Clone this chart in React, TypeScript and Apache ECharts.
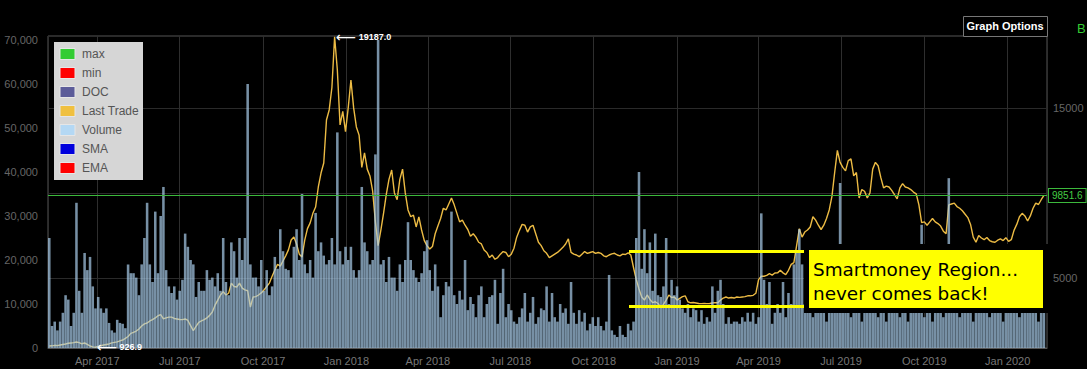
import React, { useEffect, useRef } from "react";
import * as echarts from "echarts";

const MONTHS = ["Jan", "Feb", "Mar", "Apr", "May", "Jun", "Jul", "Aug", "Sep", "Oct", "Nov", "Dec"];
const startDate = "2017-02-07";
const endDate = "2020-02-12";
const stepDays = 3;

// Last Trade (USD), one value every 3 days from startDate
const lastTrade = [
  1000, 1010, 1040, 1020, 1060, 1090, 1120, 1160, 1180, 1200,
  1235, 1200, 1130, 1176, 1100, 1000, 950, 926.9, 980, 1020,
  1060, 1090, 1120, 1180, 1210, 1240, 1300, 1350, 1450, 1560,
  1740, 1800, 1880, 2000, 2175, 2300, 2350, 2470, 2550, 2650,
  2780, 2840, 2600, 2650, 2700, 2700, 2620, 2590, 2560, 2550,
  2590, 2500, 2200, 1900, 2150, 2390, 2470, 2550, 2650, 2800,
  3000, 3400, 3700, 4000, 4200, 4000, 4100, 4700, 4500, 4470,
  4700, 4400, 4300, 4250, 3290, 3880, 3900, 4000, 4120, 4290,
  4500, 4700, 5100, 5470, 5800, 5700, 6000, 6300, 6650, 7230,
  7410, 7000, 6400, 6230, 7230, 7900, 8240, 8800, 9170, 10350,
  11170, 11760, 14290, 14880, 16200, 19187, 17230, 14000, 14800, 13600,
  15000, 16640, 15000, 13880, 13400, 11500, 12350, 11400, 11000, 10100,
  8300, 6900, 7800, 8800, 9900, 10800, 11350, 10000, 9600, 10800,
  11400, 10000, 9000, 8600, 8700, 8000, 8590, 7820, 7200, 6900,
  6700, 6850, 7600, 8050, 8500, 9100, 9000, 9350, 9700, 9300,
  8800, 8300, 8400, 8100, 7850, 7450, 7600, 7400, 7100, 7000,
  6640, 6500, 6200, 6350, 6100, 6200, 6400, 6550, 6500, 6250,
  6400, 6750, 7400, 7800, 8150, 8100, 7700, 8000, 8100, 7600,
  7100, 6900, 6600, 6450, 6200, 6300, 6400, 6500, 6650, 6800,
  7000, 7300, 6500, 6400, 6350, 6250, 6400, 6550, 6450, 6500,
  6550, 6450, 6500, 6450, 6300, 6250, 6350, 6420, 6450, 6350,
  6300, 6400, 6380, 6480, 6350, 5600, 4900, 4350, 3880, 3700,
  4000, 3750, 3550, 3600, 3500, 3250, 3450, 3700, 4000, 3850,
  3880, 3700, 3800, 3900, 3950, 3600, 3540, 3560, 3530, 3500,
  3490, 3500, 3490, 3500, 3530, 3550, 3540, 3700, 3820, 3880,
  3820, 3850, 3820, 3880, 3860, 3880, 3900, 3950, 3950, 3980,
  4100, 4900, 5100, 5100, 5150, 5250, 5170, 5290, 5300, 5450,
  5300, 5200, 5450, 5800, 5900, 6900, 7900, 7400, 7700, 7820,
  8000, 8600, 8400, 8100, 7850, 8100, 8500, 9000, 9800, 11200,
  12500, 11800, 11500, 11300, 11900, 12000, 11000, 11200, 9700, 10200,
  10100, 9700, 10000, 11400, 11800, 11600, 10900, 10300, 10400, 10350,
  10150, 9900, 9650, 10300, 10550, 10350, 10300, 10200, 10050, 9950,
  9300, 8250, 8300, 8100, 8300, 8500, 8300, 8200, 8050, 7750,
  7600, 9300, 9350, 9400, 9200, 9100, 8950, 8750, 8550, 8150,
  7400, 7100, 7500, 7350, 7250, 7380, 7200, 7130, 7100, 7220,
  7300, 7200, 7370, 7150, 7250, 7800, 8150, 8600, 8800, 8650,
  8350, 8650, 9100, 9400, 9320, 9600, 9851.6,
];

// Volume in thousands, same dates
const volumeThousands = [
  25, 5, 6, 4, 6, 8, 12, 11, 5, 8,
  33, 13, 8, 21.6, 17.7, 20.7, 14, 9, 11.6, 9,
  8, 9, 5.7, 4, 3.5, 6.4, 5.7, 5.5, 4.5, 19,
  17, 17, 16, 12, 19, 25, 33, 19, 15, 31,
  17, 30, 36.6, 17.7, 14, 12.5, 14, 11, 13, 15.5,
  26, 23, 20, 19, 11.6, 15, 13, 13, 17.7, 15.5,
  16, 14, 17, 13, 25, 15, 12, 24, 22, 16,
  25, 20, 25, 60, 19, 16, 16, 14, 20, 13,
  17.7, 12, 14, 20.7, 18, 27, 22, 18, 17.7, 16,
  23, 27, 20, 35, 19, 17, 20, 16, 30.7, 22,
  24, 21, 19, 20, 25, 19, 49, 22, 19, 23,
  20, 23, 17.7, 16, 17.7, 36.6, 24, 22, 19, 20,
  44, 70, 19, 20, 15, 20.7, 16, 16, 13, 19,
  15, 20, 28.6, 20, 17.7, 16, 15, 17, 22, 24.5,
  17.7, 13, 19, 14, 7, 12, 15, 14, 31, 12,
  10, 13, 11, 20, 8.6, 11.6, 10, 7, 12, 14,
  7, 10, 11.6, 12, 15.5, 5.5, 12.5, 18, 7, 10,
  8.6, 6, 5.5, 7, 9, 12.5, 6, 8, 11.6, 5.5,
  7, 9, 8.6, 14, 6, 12.5, 7, 6, 10, 8,
  9, 5.5, 15, 8, 5.5, 8.6, 6, 8, 4, 5.5,
  7, 5, 7, 5, 4, 6, 16.6, 4, 3, 2.5,
  5, 3, 2.5, 5.5, 4, 6, 25, 40, 18, 27,
  17, 24, 13, 26, 12, 11.6, 14, 25, 10, 15.5,
  12, 14, 11, 9, 8, 10, 7, 9, 8.6, 6,
  8.6, 5.5, 7, 6, 14, 8, 13, 15.5, 10, 5.5,
  7, 5.5, 6, 6, 5.5, 7, 6, 8, 6, 8,
  5.5, 7, 30.6, 15.5, 10, 15, 5.5, 8, 10, 8,
  15, 7, 12.5, 10, 19, 22, 27, 19, 10, 9,
  12, 7, 10, 14, 8, 11, 6, 13, 9, 16,
  12, 37.5, 8, 10, 14, 7, 11, 9, 13, 6,
  10, 12, 8, 9, 11, 7, 13, 9, 6, 10,
  12, 8, 11, 7, 9, 12, 6, 10, 8, 11,
  9, 28, 7, 10, 12, 6, 9, 11, 8, 7,
  12, 38.6, 10, 9, 13, 7, 10, 8, 11, 9,
  6, 10, 12, 8, 9, 11, 7, 10, 8, 12,
  9, 6, 10, 11, 8, 9, 12, 7, 10, 9,
  11, 8, 12, 9, 6, 10, 9,
];

const volumeAxisMax = 70909;
const volumeInterval = 10000;
const priceAxisMin = 882;
const priceAxisMax = 19228;
const hiddenPriceLabel = 10000; // covered by the last-trade tag in the reference

const legendNames = ["max", "min", "DOC", "Last Trade", "Volume", "SMA", "EMA"];
const legendColors = ["#33cc33", "#ff0000", "#5c5c99", "#f0c040", "#b4d8f4", "#0000dd", "#ff0000"];
const annotationLines = ["Smartmoney Region...", "never comes back!"];
const optionsButton = "Graph Options";
const cornerText = "B";

export default function App() {
  const ref = useRef<HTMLDivElement>(null);
  useEffect(() => {
    document.body.style.margin = "0";
    document.body.style.background = "#000";
    const chart = echarts.init(ref.current!, undefined, { renderer: "svg" });
    const day = 86400000;
    const t0 = Date.parse(startDate + "T00:00:00Z");
    const t1 = Date.parse(endDate + "T00:00:00Z");
    const priceData = lastTrade.map((v, i) => [t0 + i * stepDays * day, v]);
    const volData = volumeThousands.map((v, i) => [t0 + i * stepDays * day, v * 1000]);
    const lastValue = lastTrade[lastTrade.length - 1];
    const font = "'Liberation Sans', Arial, sans-serif";

    const legendGraphics: any[] = [
      { type: "rect", z: 100, shape: { x: 54, y: 42, width: 89, height: 138 }, style: { fill: "#d6d6d6" } },
    ];
    legendNames.forEach((n, k) => {
      legendGraphics.push({
        type: "rect", z: 101,
        shape: { x: 60, y: 48.5 + 19 * k, width: 15, height: 11 },
        style: { fill: legendColors[k], stroke: "#e6e6e6", lineWidth: 1 },
      });
      legendGraphics.push({
        type: "text", z: 101, x: 82, y: 54 + 19 * k,
        style: { text: n, fill: "#555", fontSize: 12, fontFamily: font, verticalAlign: "middle" },
      });
    });

    chart.setOption({
      animation: false,
      backgroundColor: "#000",
      useUTC: true,
      grid: { left: 48, right: 40, top: 36, bottom: 21, show: true, borderColor: "#555", borderWidth: 1 },
      xAxis: {
        type: "time", min: t0, max: t1, splitNumber: 12,
        axisLine: { show: true, lineStyle: { color: "#555" } },
        axisTick: { show: false },
        axisLabel: {
          color: "#777", fontSize: 11, fontFamily: font, margin: 7,
          showMinLabel: false, showMaxLabel: false,
          formatter: (v: number) => {
            const d = new Date(v);
            return MONTHS[d.getUTCMonth()] + " " + d.getUTCFullYear();
          },
        },
        splitLine: { show: true, lineStyle: { color: "#2e2e2e", width: 1 } },
      },
      yAxis: [
        {
          type: "value", min: 0, max: volumeAxisMax, interval: volumeInterval, position: "left",
          axisLine: { show: false }, axisTick: { show: false }, splitLine: { show: false },
          axisLabel: { color: "#666", fontSize: 11, fontFamily: font, margin: 10, showMaxLabel: false },
        },
        {
          type: "value", min: priceAxisMin, max: priceAxisMax, splitNumber: 4, position: "right",
          axisLine: { show: false }, axisTick: { show: false },
          splitLine: { show: true, lineStyle: { color: "#2a2a2a" } },
          axisLabel: {
            color: "#666", fontSize: 11, fontFamily: font, margin: 6, showMinLabel: false, showMaxLabel: false,
            formatter: (v: number) => (v === hiddenPriceLabel ? "" : String(v)),
          },
        },
      ],
      series: [
        {
          name: "Last Trade", type: "line", yAxisIndex: 1, z: 1, data: priceData,
          showSymbol: false, symbol: "none",
          lineStyle: { color: "#ecbb44", width: 1.4 },
          markPoint: {
            symbol: "circle", symbolSize: 1, itemStyle: { color: "rgba(0,0,0,0)" },
            label: {
              show: true, position: "right", distance: 1, color: "#fff", fontWeight: "bold",
              fontSize: 9, fontFamily: font,
              formatter: (p: any) => "{a|\u27f5} " + Number(p.value).toFixed(1),
              rich: { a: { fontFamily: "DejaVu Sans", fontSize: 14, color: "#fff", fontWeight: "normal" } },
            },
            data: [{ type: "max" }, { type: "min" }],
          },
          markLine: {
            silent: true, symbol: ["none", "none"],
            lineStyle: { color: "#3cb93c", width: 1, type: "solid" },
            label: {
              show: true, position: "end", formatter: String(lastValue), color: "#44cc44",
              fontSize: 10, fontFamily: font, backgroundColor: "#000", borderColor: "#3cb93c",
              borderWidth: 1, padding: [2, 3, 1, 3], distance: 2,
            },
            data: [{ yAxis: lastValue }],
          },
        },
        {
          name: "Volume", type: "bar", yAxisIndex: 0, z: 2, data: volData, barWidth: 2.55,
          itemStyle: { color: "rgba(170,205,235,0.7)" },
        },
      ],
      graphic: [
        ...legendGraphics,
        { type: "rect", z: 100, shape: { x: 963.5, y: 16.5, width: 84, height: 20 }, style: { fill: "#000", stroke: "#777", lineWidth: 1 } },
        { type: "text", z: 101, x: 1005, y: 26, style: { text: optionsButton, fill: "#fff", fontSize: 11, fontWeight: "bold", fontFamily: font, align: "center", verticalAlign: "middle" } },
        { type: "text", z: 101, x: 1077, y: 28, style: { text: cornerText, fill: "#33cc33", fontSize: 13, fontFamily: font, verticalAlign: "middle" } },
        { type: "line", z: 100, shape: { x1: 629, y1: 251.5, x2: 809, y2: 251.5 }, style: { stroke: "#ffff00", lineWidth: 3 } },
        { type: "line", z: 100, shape: { x1: 629, y1: 306.5, x2: 809, y2: 306.5 }, style: { stroke: "#ffff00", lineWidth: 3 } },
        { type: "rect", z: 100, shape: { x: 804, y: 244, width: 246, height: 69 }, style: { fill: "#000" } },
        { type: "rect", z: 101, shape: { x: 809, y: 250, width: 234, height: 58 }, style: { fill: "#ffff00" } },
        { type: "text", z: 102, x: 813, y: 257, style: { text: annotationLines.join("\n"), fill: "#000", fontSize: 18.4, fontFamily: "DejaVu Sans", lineHeight: 24, verticalAlign: "top" } },
      ],
    });
    return () => chart.dispose();
  }, []);
  return <div ref={ref} style={{ width: 1087, height: 369, background: "#000" }} />;
}
